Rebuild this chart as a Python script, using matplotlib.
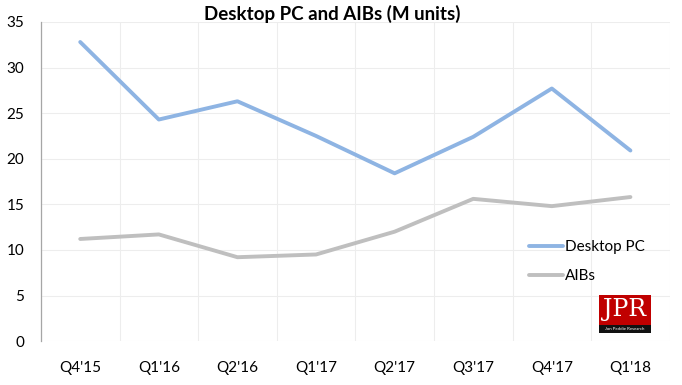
import matplotlib
matplotlib.use("Agg")
import matplotlib.pyplot as plt
from matplotlib.patches import Rectangle

quarters = ["Q4'15", "Q1'16", "Q2'16", "Q1'17", "Q2'17", "Q3'17", "Q4'17", "Q1'18"]
desktop_pc = [32.8, 24.3, 26.3, 22.5, 18.4, 22.4, 27.7, 20.9]
aibs = [11.2, 11.7, 9.2, 9.5, 12.0, 15.6, 14.8, 15.8]

plt.rcParams["font.family"] = ["Lato", "DejaVu Sans"]

fig = plt.figure(figsize=(6.82, 3.85), dpi=100)
ax = fig.add_axes([0.060, 0.114, 0.922, 0.829])

x = list(range(len(quarters)))
ax.plot(x, desktop_pc, color="#8EB4E3", lw=2.8, label="Desktop PC", solid_capstyle="round")
ax.plot(x, aibs, color="#BFBFBF", lw=2.8, label="AIBs", solid_capstyle="round")

ax.set_xlim(-0.5, len(quarters) - 0.5)
ax.set_ylim(0, 35)
ax.set_yticks(range(0, 36, 5))
ax.set_xticks(x)
ax.set_xticklabels(quarters)
ax.set_xticks([i - 0.5 for i in range(len(quarters) + 1)], minor=True)
ax.tick_params(axis="both", which="both", length=0, labelsize=11, colors="#000000")
ax.tick_params(axis="x", pad=14)
ax.tick_params(axis="y", pad=12)
ax.grid(axis="y", which="major", color="#EDEDED", lw=0.8)
ax.grid(axis="x", which="minor", color="#EDEDED", lw=0.8)
ax.grid(axis="x", which="major", visible=False)
ax.set_axisbelow(True)
for side in ["top", "right", "bottom"]:
    ax.spines[side].set_visible(False)
ax.spines["left"].set_color("#A6A6A6")
ax.spines["left"].set_linewidth(0.9)

# title sits left of the axes centre in the original
fig.text(0.487, 0.965, "Desktop PC and AIBs (M units)", fontsize=13.5,
         fontweight="bold", ha="center", va="center")

ax.legend(loc="upper left", bbox_to_anchor=(0.755, 0.36), frameon=False,
          fontsize=11, handlelength=2.2, handletextpad=0.1, labelspacing=1.0)

# JPR logo
logo = Rectangle((0.878, 0.145), 0.077, 0.09, transform=fig.transFigure,
                 facecolor="#C00000", edgecolor="none", zorder=5)
fig.patches.append(logo)
strip = Rectangle((0.878, 0.135), 0.077, 0.022, transform=fig.transFigure,
                  facecolor="#111111", edgecolor="none", zorder=6)
fig.patches.append(strip)
fig.text(0.9165, 0.197, "JPR", color="white", family="DejaVu Serif",
         fontsize=17, ha="center", va="center", zorder=7)
fig.text(0.9165, 0.146, "Jon Peddie Research", color="white", fontsize=3.2,
         ha="center", va="center", zorder=7)

fig.savefig("out.png", dpi=100)
